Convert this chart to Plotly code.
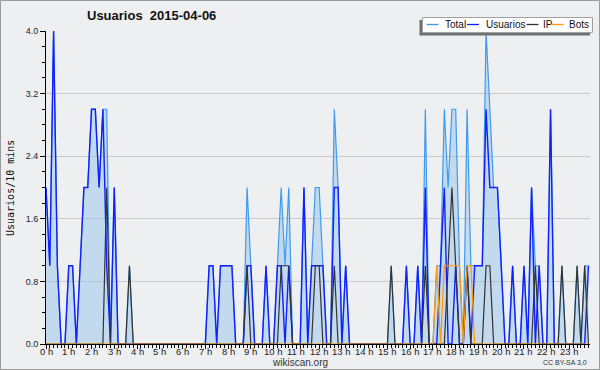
import plotly.graph_objects as go

# 10-minute slots over the day (0 .. 143)
slots = list(range(144))
hour_slots = [6 * h for h in range(24)]
hour_labels = [f"{h} h" for h in range(24)]

usuarios = [
    2, 1, 4, 1, 0, 0, 1, 1, 0, 1, 2, 2,
    3, 3, 2, 3, 1, 0, 2, 0, 0, 0, 0, 0,
    0, 0, 0, 0, 0, 0, 0, 0, 0, 0, 0, 0,
    0, 0, 0, 0, 0, 0, 0, 1, 1, 0, 1, 1,
    1, 1, 0, 0, 0, 1, 1, 0, 0, 0, 1, 0,
    0, 1, 1, 0, 1, 0, 0, 0, 2, 0, 1, 1,
    1, 1, 0, 0, 2, 2, 0, 1, 0, 0, 0, 0,
    0, 0, 0, 0, 0, 0, 0, 0, 0, 0, 0, 1,
    0, 0, 1, 0, 2, 0, 0, 0, 1, 2, 0, 0,
    1, 0, 0, 1, 0, 1, 1, 1, 3, 2, 2, 2,
    1, 0, 0, 1, 0, 0, 1, 0, 2, 0, 1, 0,
    0, 3, 0, 0, 0, 0, 0, 0, 0, 0, 0, 1,
]

ip = [
    0, 0, 0, 0, 0, 0, 0, 0, 0, 0, 0, 0,
    0, 0, 0, 0, 2, 0, 0, 0, 0, 0, 1, 0,
    0, 0, 0, 0, 0, 0, 0, 0, 0, 0, 0, 0,
    0, 0, 0, 0, 0, 0, 0, 0, 0, 0, 0, 0,
    0, 0, 0, 0, 0, 1, 0, 0, 0, 0, 0, 0,
    0, 0, 1, 1, 1, 0, 0, 0, 0, 0, 0, 1,
    1, 0, 0, 0, 1, 0, 0, 0, 0, 0, 0, 0,
    0, 0, 0, 0, 0, 0, 0, 1, 0, 0, 0, 0,
    0, 0, 0, 0, 1, 0, 0, 0, 0, 0, 1, 2,
    1, 0, 0, 1, 0, 0, 0, 0, 1, 1, 0, 0,
    0, 0, 0, 0, 0, 0, 0, 0, 0, 1, 0, 0,
    0, 0, 0, 0, 1, 0, 0, 0, 1, 0, 1, 0,
]

bots = [
    0, 0, 0, 0, 0, 0, 0, 0, 0, 0, 0, 0,
    0, 0, 0, 0, 0, 0, 0, 0, 0, 0, 0, 0,
    0, 0, 0, 0, 0, 0, 0, 0, 0, 0, 0, 0,
    0, 0, 0, 0, 0, 0, 0, 0, 0, 0, 0, 0,
    0, 0, 0, 0, 0, 0, 0, 0, 0, 0, 0, 0,
    0, 0, 0, 0, 0, 0, 0, 0, 0, 0, 0, 0,
    0, 0, 0, 0, 0, 0, 0, 0, 0, 0, 0, 0,
    0, 0, 0, 0, 0, 0, 0, 0, 0, 0, 0, 0,
    0, 0, 0, 0, 0, 0, 0, 1, 0, 1, 1, 1,
    1, 1, 0, 1, 1, 0, 0, 0, 0, 0, 0, 0,
    0, 0, 0, 0, 0, 0, 0, 0, 0, 0, 0, 0,
    0, 0, 0, 0, 0, 0, 0, 0, 0, 0, 0, 0,
]

total = [
    2, 1, 4, 1, 0, 0, 1, 1, 0, 1, 2, 2,
    3, 3, 2, 3, 3, 0, 2, 0, 0, 0, 1, 0,
    0, 0, 0, 0, 0, 0, 0, 0, 0, 0, 0, 0,
    0, 0, 0, 0, 0, 0, 0, 1, 1, 0, 1, 1,
    1, 1, 0, 0, 0, 2, 1, 0, 0, 0, 1, 0,
    0, 1, 2, 1, 2, 0, 0, 0, 2, 0, 1, 2,
    2, 1, 0, 0, 3, 2, 0, 1, 0, 0, 0, 0,
    0, 0, 0, 0, 0, 0, 0, 1, 0, 0, 0, 1,
    0, 0, 1, 0, 3, 0, 0, 1, 1, 3, 2, 3,
    3, 1, 0, 3, 1, 1, 1, 1, 4, 3, 2, 2,
    1, 0, 0, 1, 0, 0, 1, 0, 2, 1, 1, 0,
    0, 3, 0, 0, 1, 0, 0, 0, 1, 0, 1, 1,
]

y_ticks = [0.0, 0.8, 1.6, 2.4, 3.2, 4.0]

series_names = ["Total", "Usuarios", "IP", "Bots"]
series_colors = ["#3d9cf0", "#1020ff", "#333333", "#ff9900"]

W, H = 600, 370
L, R, T, B = 46, 10, 31, 26
PW, PH = W - L - R, H - T - B
BG = "#eeeff0"
FONT = "Liberation Sans, Arial, sans-serif"


def px(xp):
    return (xp - L) / PW


def py(yp):
    return (H - B - yp) / PH


fig = go.Figure()
fig.add_trace(go.Scatter(x=slots, y=total, mode="lines", name="Total",
                         line=dict(color=series_colors[0], width=1.2),
                         fill="tozeroy", fillcolor="rgba(150,195,235,0.5)"))
fig.add_trace(go.Scatter(x=slots, y=usuarios, mode="lines", name="Usuarios",
                         line=dict(color=series_colors[1], width=1.4)))
fig.add_trace(go.Scatter(x=slots, y=ip, mode="lines", name="IP",
                         line=dict(color=series_colors[2], width=1.2)))
fig.add_trace(go.Scatter(x=slots, y=bots, mode="lines", name="Bots",
                         line=dict(color=series_colors[3], width=1.2)))

shapes = []
annotations = []

# outer border
shapes.append(dict(type="rect", xref="paper", yref="paper",
                   x0=px(0.5), x1=px(W - 0.5), y0=py(0.5), y1=py(H - 0.5),
                   line=dict(color="#9a9a9a", width=1), fillcolor="rgba(0,0,0,0)",
                   layer="above"))

# legend box with shadow
shapes.append(dict(type="rect", xref="paper", yref="paper",
                   x0=px(419.5), x1=px(590), y0=py(20), y1=py(35.5),
                   line=dict(width=0), fillcolor="#707070", layer="above"))
shapes.append(dict(type="rect", xref="paper", yref="paper",
                   x0=px(422.5), x1=px(592.5), y0=py(17.5), y1=py(32.5),
                   line=dict(color="#a0a0a0", width=1), fillcolor="#ffffff",
                   layer="above"))
leg_items = [(426.5, 442.5), (467, 483.5), (526.5, 540.5), (551.5, 567)]
for (lx, tx), name, col in zip(leg_items, series_names, series_colors):
    shapes.append(dict(type="line", xref="paper", yref="paper",
                       x0=px(lx), x1=px(lx + 12), y0=py(24.5), y1=py(24.5),
                       line=dict(color=col, width=1.3), layer="above"))
    annotations.append(dict(x=px(tx), y=py(25), xref="paper", yref="paper",
                            text=name, showarrow=False, xanchor="left",
                            yanchor="middle",
                            font=dict(family=FONT, size=10, color="#111111")))

# x tick labels placed close to the axis
for hs, lab in zip(hour_slots, hour_labels):
    annotations.append(dict(x=hs, y=py(351.5), xref="x", yref="paper",
                            text=lab, showarrow=False, xanchor="center",
                            yanchor="middle",
                            font=dict(family=FONT, size=9.5, color="#222222")))

# title
annotations.append(dict(x=px(151), y=py(16), xref="paper", yref="paper",
                        text="<b>Usuarios  2015-04-06</b>", showarrow=False,
                        xanchor="center", yanchor="middle",
                        font=dict(family=FONT, size=13, color="#111111")))
# y axis title
annotations.append(dict(x=px(10), y=py(188), xref="paper", yref="paper",
                        text="Usuarios/10 mins", showarrow=False, textangle=-90,
                        xanchor="center", yanchor="middle",
                        font=dict(family="DejaVu Sans Mono, monospace", size=10,
                                  color="#111111")))
# footer
annotations.append(dict(x=px(300), y=py(362), xref="paper", yref="paper",
                        text="wikiscan.org", showarrow=False,
                        xanchor="center", yanchor="middle",
                        font=dict(family=FONT, size=10, color="#333333")))
annotations.append(dict(x=px(589), y=py(362.5), xref="paper", yref="paper",
                        text="CC BY-SA 3.0", showarrow=False,
                        xanchor="right", yanchor="middle",
                        font=dict(family=FONT, size=7, color="#333333")))

fig.update_layout(
    width=W, height=H,
    margin=dict(l=L, r=R, t=T, b=B, pad=0),
    paper_bgcolor=BG, plot_bgcolor=BG,
    showlegend=False,
    shapes=shapes, annotations=annotations,
    font=dict(family=FONT, size=9, color="#222222"),
)
fig.update_xaxes(
    range=[0, 143.4], tickvals=hour_slots, showticklabels=False,
    showgrid=False, zeroline=False, showline=True, linecolor="#000000",
    linewidth=1, ticks="outside", ticklen=4, tickcolor="#000000",
    minor=dict(dtick=1, tick0=0, ticks="outside", ticklen=3,
               tickcolor="#000000", showgrid=False),
)
fig.update_yaxes(
    range=[0, 4], tickvals=y_ticks, ticktext=[f"{v:.1f}" for v in y_ticks],
    showgrid=True, gridcolor="#cacaca", gridwidth=1, zeroline=False,
    showline=True, linecolor="#000000", linewidth=1,
    ticks="outside", ticklen=5, tickcolor="#000000",
    tickfont=dict(family=FONT, size=9, color="#222222"),
    minor=dict(dtick=0.2, tick0=0, ticks="outside", ticklen=3,
               tickcolor="#000000", showgrid=False),
)

fig.write_html("out.html", config={"displayModeBar": False},
               post_script="document.body.style.margin='0px';"
                           "document.body.style.overflow='hidden';")
